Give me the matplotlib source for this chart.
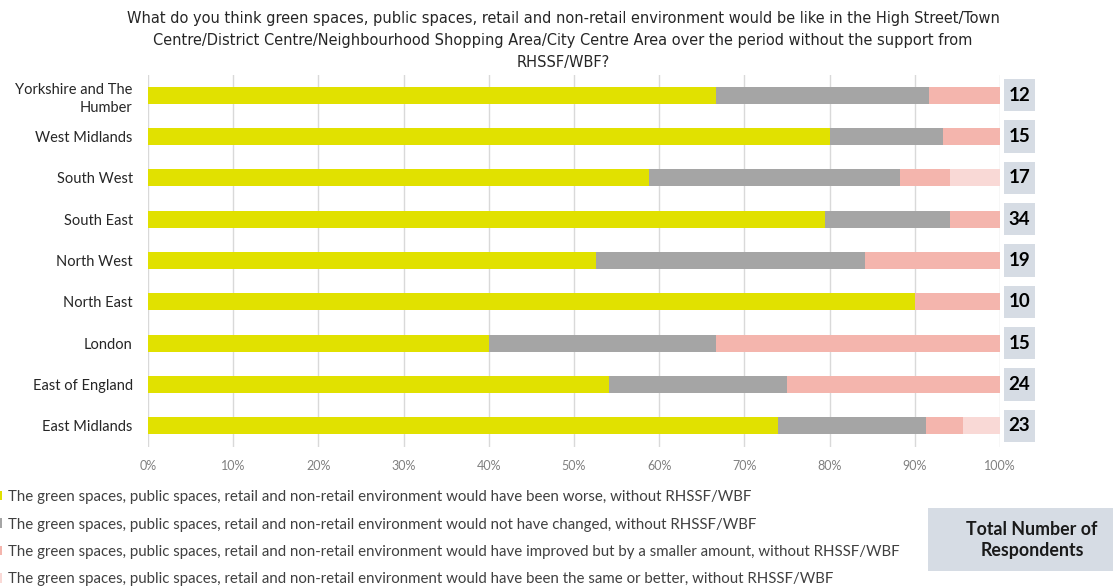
import numpy as np
import matplotlib
matplotlib.use("Agg")
import matplotlib.pyplot as plt
from matplotlib.patches import Rectangle
from matplotlib.transforms import blended_transform_factory

plt.rcParams['font.family'] = ['Lato', 'DejaVu Sans']

regions = ["Yorkshire and The\nHumber", "West Midlands", "South West", "South East",
           "North West", "North East", "London", "East of England", "East Midlands"]

# respondent counts per answer
worse = np.array([8, 12, 10, 27, 10, 9, 6, 13, 17])
no_change = np.array([3, 2, 5, 5, 6, 0, 4, 5, 4])
smaller = np.array([1, 1, 1, 2, 3, 1, 5, 6, 1])
same_better = np.array([0, 0, 1, 0, 0, 0, 0, 0, 1])
totals = worse + no_change + smaller + same_better

series = [worse, no_change, smaller, same_better]
colors = ["#e1e100", "#a5a5a5", "#f4b5ad", "#f9d9d6"]
labels = [
    "The green spaces, public spaces, retail and non-retail environment would have been worse, without RHSSF/WBF",
    "The green spaces, public spaces, retail and non-retail environment would not have changed, without RHSSF/WBF",
    "The green spaces, public spaces, retail and non-retail environment would have improved but by a smaller amount, without RHSSF/WBF",
    "The green spaces, public spaces, retail and non-retail environment would have been the same or better, without RHSSF/WBF",
]

title = ("What do you think green spaces, public spaces, retail and non-retail environment would be like in the High Street/Town\n"
         "Centre/District Centre/Neighbourhood Shopping Area/City Centre Area over the period without the support from\n"
         "RHSSF/WBF?")

fig = plt.figure(figsize=(11.13, 5.87), dpi=100)
ax = fig.add_axes([148 / 1113, 1 - 446.5 / 587, 852 / 1113, 372 / 587])

y = np.arange(len(regions))
left = np.zeros(len(regions))
handles = []
for vals, col, lab in zip(series, colors, labels):
    share = vals / totals
    h = ax.barh(y, share, left=left, height=0.41, color=col, label=lab, zorder=3)
    handles.append(h)
    left += share

ax.set_xlim(0, 1)
ax.set_ylim(len(regions) - 0.5, -0.5)
ax.set_xticks(np.linspace(0, 1, 11))
ax.set_xticklabels([f"{int(t)}%" for t in np.linspace(0, 100, 11)])
ax.set_yticks(y)
ax.set_yticklabels(regions, fontsize=10.5, color="#262626", linespacing=1.35)
ax.tick_params(axis='y', length=0, pad=11)
ax.tick_params(axis='x', length=0, pad=10, labelsize=9, labelcolor="#808080")
ax.grid(axis='x', color="#d9d9d9", linewidth=1, zorder=0)
for s in ax.spines.values():
    s.set_visible(False)

# total respondents boxes to the right of the bars
tr = blended_transform_factory(ax.transAxes, ax.transData)
bw = 31 / 852
for i, t in enumerate(totals):
    ax.add_patch(Rectangle((1.0047, i - 0.39), bw, 0.78, transform=tr,
                           facecolor="#d6dce4", edgecolor='none', clip_on=False))
    ax.text(1.0047 + bw / 2, i, str(t), transform=tr, ha='center', va='center',
            fontsize=13.5, fontweight='bold', color="black")

fig.text(563 / 1113, 1 - 11 / 587, title, ha='center', va='top', fontsize=11.7,
         family='DejaVu Sans', fontstretch='condensed', color="#262626", linespacing=1.6)

leg = fig.legend(handles=handles, labels=labels, loc='upper left',
                 bbox_to_anchor=(-0.004, 1 - 490 / 587), frameon=False, fontsize=10.8,
                 handlelength=0.45, handleheight=0.6, handletextpad=0.35,
                 labelspacing=0.9, borderpad=0, borderaxespad=0)
for txt in leg.get_texts():
    txt.set_color("#404040")

fig.patches.append(Rectangle((928 / 1113, 1 - 571 / 587), 185 / 1113, 63 / 587,
                             transform=fig.transFigure, facecolor="#d6dce4",
                             edgecolor='none'))
fig.text(1032 / 1113, 1 - 540 / 587, "Total Number of\nRespondents", ha='center',
         va='center', fontsize=12.8, fontweight='bold', color="#1a1a1a", linespacing=1.3)

fig.savefig("out.png", dpi=100)
